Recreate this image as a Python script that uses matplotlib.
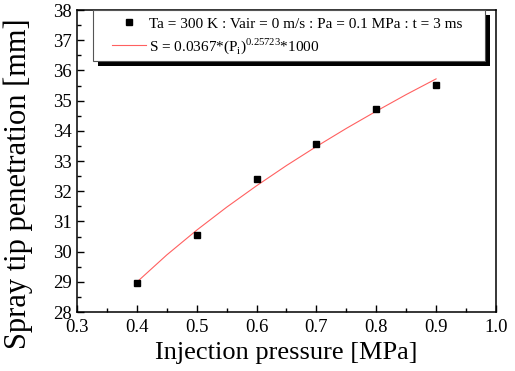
import matplotlib
matplotlib.use("Agg")
import matplotlib.pyplot as plt
from matplotlib.patches import Rectangle
from matplotlib.ticker import MultipleLocator

# measured spray tip penetration
pressure = [0.4, 0.5, 0.6, 0.7, 0.8, 0.9]
penetration = [28.95, 30.55, 32.4, 33.55, 34.73, 35.53]

# fitted curve
fit_pressure = [0.40, 0.45, 0.50, 0.55, 0.60, 0.65, 0.70, 0.75, 0.80, 0.85, 0.90]
fit_penetration = [28.99, 29.89, 30.71, 31.47, 32.18, 32.85, 33.48, 34.08, 34.65, 35.20, 35.72]

data_label = "Ta = 300 K : Vair = 0 m/s : Pa = 0.1 MPa : t = 3 ms"
fit_label = r"S = 0.0367*(P$_\mathregular{i}$)$^\mathregular{0.25723}$*1000"

plt.rcParams["font.family"] = ["Liberation Serif", "DejaVu Serif"]
plt.rcParams["mathtext.fontset"] = "custom"
plt.rcParams["mathtext.rm"] = "Liberation Serif"

fig = plt.figure(figsize=(5.15, 3.71), dpi=100)
ax = fig.add_axes([0.1495, 0.159, 0.8135, 0.814])

ax.plot(pressure, penetration, "s", color="black", markersize=5, label=data_label, zorder=3)
ax.plot(fit_pressure, fit_penetration, "-", color="#ff6060", linewidth=0.8, label=fit_label)

ax.set_xlim(0.3, 1.0)
ax.set_ylim(28, 38)
ax.xaxis.set_major_locator(MultipleLocator(0.1))
ax.xaxis.set_minor_locator(MultipleLocator(0.05))
ax.yaxis.set_major_locator(MultipleLocator(1))
ax.yaxis.set_minor_locator(MultipleLocator(0.5))
ax.xaxis.set_major_formatter(plt.FuncFormatter(lambda v, p: f"{v:.1f}"))
ax.tick_params(which="both", direction="in", top=False, right=False, labelsize=13.5)
ax.tick_params(which="major", length=5, width=1)
ax.tick_params(which="minor", length=3, width=1)
ax.tick_params(axis="x", pad=5)
for s in ax.spines.values():
    s.set_linewidth(1.1)

ax.set_xlabel("Injection pressure [MPa]", fontsize=19, labelpad=4)
ax.set_ylabel("Spray tip penetration [mm]", fontsize=22)
ax.yaxis.set_label_coords(-0.104, 0.424)

# legend box with a hard black drop shadow
box_x, box_y, box_w, box_h = 0.038, 0.831, 0.936, 0.169
ax.add_patch(Rectangle((box_x + 0.012, box_y - 0.017), box_w, box_h,
                       transform=ax.transAxes, facecolor="black", edgecolor="none",
                       zorder=4, clip_on=False))
ax.add_patch(Rectangle((box_x, box_y), box_w, box_h, transform=ax.transAxes,
                       facecolor="white", edgecolor="#555555", linewidth=0.8,
                       zorder=5, clip_on=False))

leg = ax.legend(loc="upper left", bbox_to_anchor=(0.068, 1.0), borderaxespad=0,
                fontsize=11, frameon=False, handlelength=2.2, handletextpad=0.2,
                labelspacing=0.35, borderpad=0.45)
leg.set_zorder(6)

fig.savefig("out.png", dpi=100)
